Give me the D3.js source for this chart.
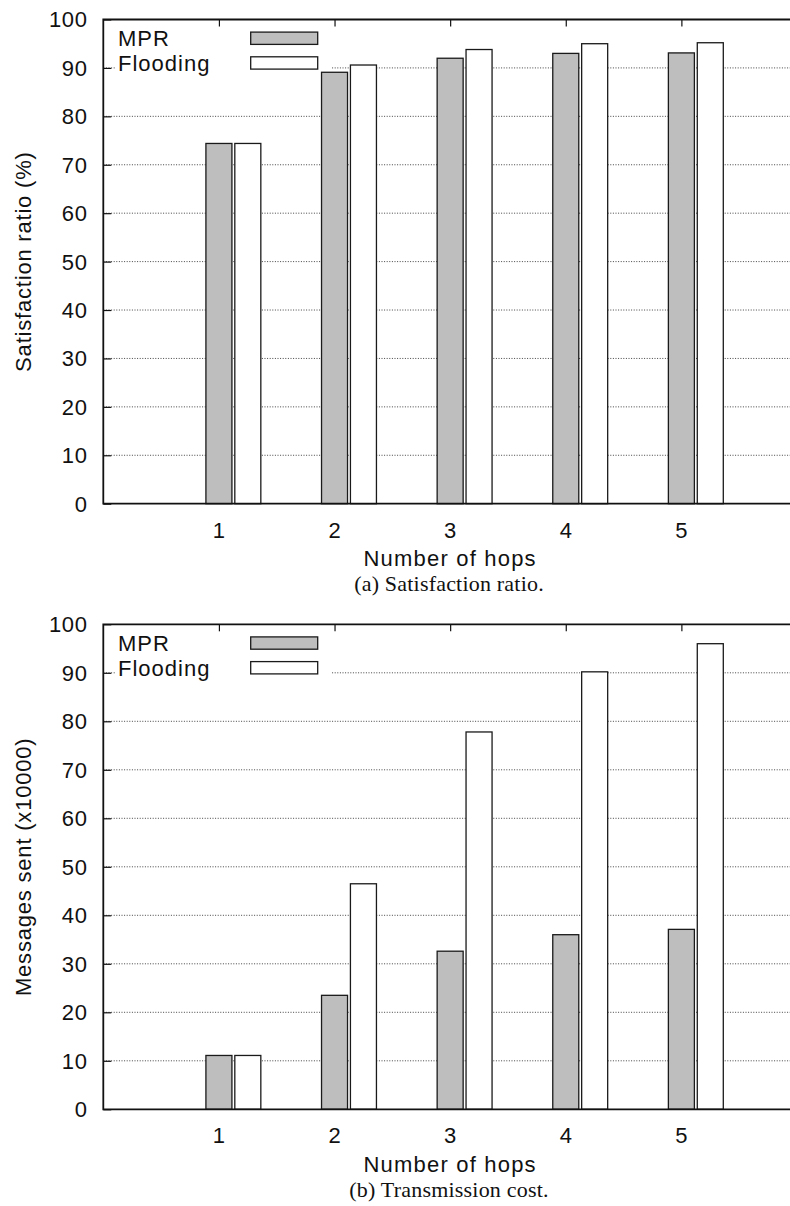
<!DOCTYPE html>
<html>
<head>
<meta charset="utf-8">
<script src="https://cdn.jsdelivr.net/npm/d3@7"></script>
<style>
  html, body { margin: 0; padding: 0; background: #fff; }
  svg { display: block; }
  .sans { font-family: "Liberation Sans", Arial, Helvetica, sans-serif; }
  .serif { font-family: "Liberation Serif", "Times New Roman", serif; }
</style>
</head>
<body>
<script>
// ---- data ----
const hops = [1, 2, 3, 4, 5];
const seriesNames = ["MPR", "Flooding"];
const satisfactionMPR = [74.4, 89.1, 92.0, 93.0, 93.1];
const satisfactionFlooding = [74.4, 90.6, 93.8, 95.0, 95.2];
const messagesMPR = [11.1, 23.5, 32.6, 36.0, 37.1];
const messagesFlooding = [11.1, 46.5, 77.8, 90.2, 96.0];
const yTicks = [0, 10, 20, 30, 40, 50, 60, 70, 80, 90, 100];
const xLabel = "Number of hops";
const panels = [
  { yTitle: "Satisfaction ratio (%)", caption: "(a) Satisfaction ratio.", mpr: satisfactionMPR, flood: satisfactionFlooding },
  { yTitle: "Messages sent (x10000)", caption: "(b) Transmission cost.", mpr: messagesMPR, flood: messagesFlooding }
];

// ---- layout ----
const W = 790, H = 1206;
const svg = d3.select("body").append("svg").attr("width", W).attr("height", H);
const plotLeft = 103.3, plotRight = 797;
const tops = [19.5, 624.3], bottoms = [503.7, 1109.3];
const fills = ["#bebebe", "#ffffff"];
const x = d3.scaleLinear().domain([0, 6]).range([plotLeft, plotRight]);
const barW = 0.225, offsets = [0, 0.25];

panels.forEach((p, pi) => {
  const top = tops[pi], bot = bottoms[pi];
  const y = d3.scaleLinear().domain([0, 100]).range([bot, top]);
  const g = svg.append("g");

  // grid lines
  g.append("g").selectAll("line").data(yTicks.filter(t => t > 0 && t < 100)).join("line")
    .attr("x1", plotLeft).attr("x2", plotRight)
    .attr("y1", d => y(d)).attr("y2", d => y(d))
    .attr("stroke", "#444").attr("stroke-width", 1).attr("stroke-dasharray", "1,1.6");

  // legend opaque box
  g.append("rect").attr("x", 116).attr("y", top + 2).attr("width", 215).attr("height", 58).attr("fill", "#fff");

  // y axis (ticks inward) via d3 axis
  const yAxis = g.append("g").attr("transform", `translate(${plotLeft},0)`)
    .call(d3.axisRight(y).tickValues(yTicks).tickSize(8).tickFormat(""));
  yAxis.select(".domain").remove();
  yAxis.selectAll("line").attr("stroke", "#111").attr("stroke-width", 1.2);

  // y tick labels
  g.append("g").selectAll("text").data(yTicks).join("text")
    .attr("class", "sans")
    .attr("x", 87.5).attr("y", d => y(d)).attr("dy", "0.36em")
    .attr("text-anchor", "end").attr("font-size", 22).attr("letter-spacing", 0.6)
    .attr("fill", "#111").text(d => d);

  // top mirror ticks
  const topAxis = g.append("g").attr("transform", `translate(0,${top})`)
    .call(d3.axisBottom(x).tickValues(hops).tickSize(7).tickFormat(""));
  topAxis.select(".domain").remove();
  topAxis.selectAll("line").attr("stroke", "#111").attr("stroke-width", 1.2);
  // bottom ticks (pointing up)
  const botAxis = g.append("g").attr("transform", `translate(0,${bot})`)
    .call(d3.axisTop(x).tickValues(hops).tickSize(7).tickFormat(""));
  botAxis.select(".domain").remove();
  botAxis.selectAll("line").attr("stroke", "#111").attr("stroke-width", 1.2);

  // bars
  [p.mpr, p.flood].forEach((vals, si) => {
    g.append("g").selectAll("rect").data(vals).join("rect")
      .attr("x", (d, i) => x(hops[i] + offsets[si] - barW / 2))
      .attr("width", x(barW) - x(0))
      .attr("y", d => y(d))
      .attr("height", d => y(0) - y(d))
      .attr("fill", fills[si]).attr("stroke", "#1a1a1a").attr("stroke-width", 1.3);
  });

  // frame (left, top, bottom)
  g.append("path")
    .attr("d", `M${plotRight},${top} H${plotLeft} V${bot} H${plotRight}`)
    .attr("fill", "none").attr("stroke", "#111").attr("stroke-width", 1.8);

  // x tick labels
  g.append("g").selectAll("text").data(hops).join("text")
    .attr("class", "sans")
    .attr("x", d => x(d)).attr("y", bot + 26).attr("dy", "0.36em")
    .attr("text-anchor", "middle").attr("font-size", 22).attr("fill", "#111").text(d => d);

  // x title
  g.append("text").attr("class", "sans")
    .attr("x", (plotLeft + plotRight) / 2).attr("y", bot + 54.5).attr("dy", "0.36em")
    .attr("text-anchor", "middle").attr("font-size", 22).attr("letter-spacing", 1.2)
    .attr("fill", "#111").text(xLabel);

  // y title
  g.append("text").attr("class", "sans")
    .attr("transform", `translate(23,${(top + bot) / 2}) rotate(-90)`)
    .attr("dy", "0.36em").attr("text-anchor", "middle").attr("font-size", 22).attr("letter-spacing", 0.8)
    .attr("fill", "#111").text(p.yTitle);

  // caption
  g.append("text").attr("class", "serif")
    .attr("x", 449).attr("y", bot + 80).attr("dy", "0.33em")
    .attr("text-anchor", "middle").attr("font-size", 22).attr("letter-spacing", 0.2)
    .attr("fill", "#111").text(p.caption);

  // legend
  seriesNames.forEach((name, si) => {
    const ly = top + 18.8 + si * 24.7;
    g.append("text").attr("class", "sans")
      .attr("x", 118).attr("y", ly).attr("dy", "0.36em")
      .attr("font-size", 22).attr("letter-spacing", 1.0).attr("fill", "#111").text(name);
    g.append("rect").attr("x", 250.7).attr("y", ly - 6.2).attr("width", 67).attr("height", 12.3)
      .attr("fill", fills[si]).attr("stroke", "#1a1a1a").attr("stroke-width", 1.3);
  });
});
</script>
</body>
</html>
